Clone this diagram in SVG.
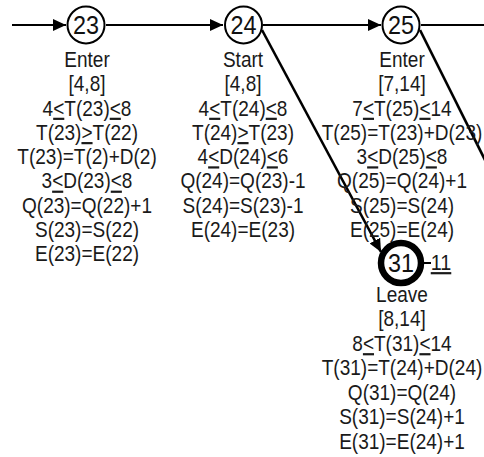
<svg xmlns="http://www.w3.org/2000/svg" width="484" height="457" viewBox="0 0 484 457">
  <defs>
    <style>
      .bg { fill: #ffffff; }
      .node { fill: #ffffff; stroke: #000000; stroke-width: 2; }
      .node-thick { fill: #ffffff; stroke: #000000; stroke-width: 6.5; }
      .edge { fill: none; stroke: #000000; stroke-width: 2; }
      .diag { stroke-width: 2.6; }
      .num { font-family: "Liberation Sans", Arial, sans-serif; font-size: 26px; fill: #111111; text-anchor: middle; }
      .lbl { font-family: "Liberation Sans", Arial, sans-serif; font-size: 22px; fill: #1a1a1a; text-anchor: middle; }
      .u { text-decoration: underline; }
    </style>
    <marker id="arrow" markerUnits="userSpaceOnUse" markerWidth="14" markerHeight="12" refX="13" refY="6" orient="auto">
      <path d="M0,0 L13,6 L0,12 Z" fill="#000000"/>
    </marker>
  </defs>

  <rect class="bg" x="0" y="0" width="484" height="457"/>

  <!-- connectors -->
  <g id="connectors">
    <line class="edge" x1="12" y1="25" x2="66" y2="25" marker-end="url(#arrow)"/>
    <line class="edge" x1="106" y1="25" x2="223" y2="25" marker-end="url(#arrow)"/>
    <line class="edge" x1="263" y1="25" x2="381" y2="25" marker-end="url(#arrow)"/>
    <line class="edge" x1="421" y1="25" x2="484" y2="25"/>
    <line class="edge diag" x1="262" y1="30" x2="381" y2="252" marker-end="url(#arrow)"/>
    <line class="edge diag" x1="420" y1="30" x2="487" y2="164"/>
    <line class="edge" x1="424" y1="263" x2="431" y2="263"/>
  </g>

  <!-- node 23 -->
  <g id="node-23">
    <circle class="node" cx="86" cy="25" r="18.5"/>
    <text class="num" transform="translate(86 34) scale(0.9 1)">23</text>
    <g class="lbl" transform="translate(87 0) scale(0.865 1)">
      <text x="0" y="67">Enter</text>
      <text x="0" y="91.3">[4,8]</text>
      <text x="0" y="115.6">4<tspan class="u">&lt;</tspan>T(23)<tspan class="u">&lt;</tspan>8</text>
      <text x="0" y="139.9">T(23)<tspan class="u">&gt;</tspan>T(22)</text>
      <text x="0" y="164.2">T(23)=T(2)+D(2)</text>
      <text x="0" y="188.5">3<tspan class="u">&lt;</tspan>D(23)<tspan class="u">&lt;</tspan>8</text>
      <text x="0" y="212.8">Q(23)=Q(22)+1</text>
      <text x="0" y="237.1">S(23)=S(22)</text>
      <text x="0" y="261.4">E(23)=E(22)</text>
    </g>
  </g>

  <!-- node 24 -->
  <g id="node-24">
    <circle class="node" cx="243.5" cy="25" r="18.5"/>
    <text class="num" transform="translate(243.5 34) scale(0.9 1)">24</text>
    <g class="lbl" transform="translate(243 0) scale(0.865 1)">
      <text x="0" y="67">Start</text>
      <text x="0" y="91.3">[4,8]</text>
      <text x="0" y="115.6">4<tspan class="u">&lt;</tspan>T(24)<tspan class="u">&lt;</tspan>8</text>
      <text x="0" y="139.9">T(24)<tspan class="u">&gt;</tspan>T(23)</text>
      <text x="0" y="164.2">4<tspan class="u">&lt;</tspan>D(24)<tspan class="u">&lt;</tspan>6</text>
      <text x="0" y="188.5">Q(24)=Q(23)-1</text>
      <text x="0" y="212.8">S(24)=S(23)-1</text>
      <text x="0" y="237.1">E(24)=E(23)</text>
    </g>
  </g>

  <!-- node 25 -->
  <g id="node-25">
    <circle class="node" cx="401" cy="25" r="18.5"/>
    <text class="num" transform="translate(401 34) scale(0.9 1)">25</text>
    <g class="lbl" transform="translate(402 0) scale(0.865 1)">
      <text x="0" y="67">Enter</text>
      <text x="0" y="91.3">[7,14]</text>
      <text x="0" y="115.6">7<tspan class="u">&lt;</tspan>T(25)<tspan class="u">&lt;</tspan>14</text>
      <text x="0" y="139.9">T(25)=T(23)+D(23)</text>
      <text x="0" y="164.2">3<tspan class="u">&lt;</tspan>D(25)<tspan class="u">&lt;</tspan>8</text>
      <text x="0" y="188.5">Q(25)=Q(24)+1</text>
      <text x="0" y="212.8">S(25)=S(24)</text>
      <text x="0" y="237.1">E(25)=E(24)</text>
    </g>
  </g>

  <!-- node 31 -->
  <g id="node-31">
    <circle class="node-thick" cx="401" cy="263" r="20"/>
    <text class="num" transform="translate(401 272) scale(0.9 1)">31</text>
    <text class="lbl u" transform="translate(441 270) scale(0.9 1)">11</text>
    <g class="lbl" transform="translate(402 0) scale(0.865 1)">
      <text x="0" y="302">Leave</text>
      <text x="0" y="326.5">[8,14]</text>
      <text x="0" y="351">8<tspan class="u">&lt;</tspan>T(31)<tspan class="u">&lt;</tspan>14</text>
      <text x="0" y="375.5">T(31)=T(24)+D(24)</text>
      <text x="0" y="400">Q(31)=Q(24)</text>
      <text x="0" y="424.5">S(31)=S(24)+1</text>
      <text x="0" y="449">E(31)=E(24)+1</text>
    </g>
  </g>
</svg>
